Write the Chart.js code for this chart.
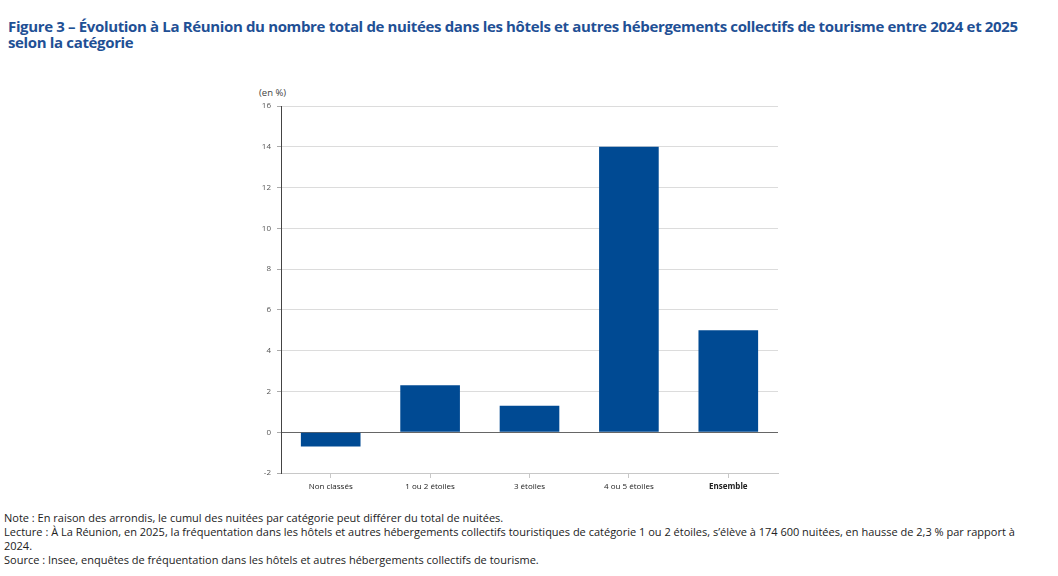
<!DOCTYPE html>
<html lang="fr">
<head>
<meta charset="utf-8">
<script src="https://cdn.jsdelivr.net/npm/chart.js@4"></script>
<style>
  body { margin: 0; width: 1058px; height: 576px; background: #fff; font-family: "Open Sans", sans-serif; position: relative; overflow: hidden; }
  #title { position: absolute; left: 8px; top: 18px; width: 1040px; font-size: 15px; font-weight: bold; color: #1f5095; line-height: 16px; letter-spacing: -0.35px; }
  #unit { position: absolute; left: 259px; top: 86px; font-size: 9.5px; color: #444; }
  #chartBox { position: absolute; left: 240px; top: 80px; width: 560px; height: 423px; }
  #notes { position: absolute; left: 4px; top: 511px; width: 1030px; font-size: 11px; color: #222; line-height: 14px; letter-spacing: 0; }
  #notes p { margin: 0; }
</style>
</head>
<body>
<div id="title">Figure 3 – Évolution à La Réunion du nombre total de nuitées dans les hôtels et autres hébergements collectifs de tourisme entre 2024 et 2025 selon la catégorie</div>
<div id="unit">(en %)</div>
<div id="chartBox"><canvas id="evolChart"></canvas></div>
<div id="notes">
  <p>Note : En raison des arrondis, le cumul des nuitées par catégorie peut différer du total de nuitées.</p>
  <p>Lecture : À La Réunion, en 2025, la fréquentation dans les hôtels et autres hébergements collectifs touristiques de catégorie 1 ou 2 étoiles, s’élève à 174 600 nuitées, en hausse de 2,3 % par rapport à 2024.</p>
  <p>Source : Insee, enquêtes de fréquentation dans les hôtels et autres hébergements collectifs de tourisme.</p>
</div>
<script>
// ============================
// DATA
// ============================
const categories = ['Non classés', '1 ou 2 étoiles', '3 étoiles', '4 ou 5 étoiles', 'Ensemble'];
const evolution = [-0.7, 2.3, 1.3, 14.0, 5.0];
const yMin = -2;
const yMax = 16;
const yStep = 2;

// ============================
// BAR CHART
// ============================
const ctx = document.getElementById('evolChart');

new Chart(ctx, {
    type: 'bar',
    data: {
        labels: categories,
        datasets: [{
            label: 'Évolution',
            data: evolution,
            backgroundColor: '#004a93',
            borderWidth: 0,
            barPercentage: 0.6,
            categoryPercentage: 1.0
        }]
    },
    options: {
        responsive: true,
        maintainAspectRatio: false,
        animation: false,
        layout: { padding: { top: 26, right: 22, left: 0, bottom: 0 } },
        plugins: {
            legend: { display: false },
            tooltip: { enabled: false }
        },
        scales: {
            x: {
                grid: {
                    offset: false,
                    drawOnChartArea: false,
                    drawTicks: true,
                    tickLength: 5,
                    color: '#c8c8c8'
                },
                border: { color: '#c8c8c8' },
                ticks: {
                    color: '#222',
                    padding: 4,
                    maxRotation: 0,
                    font: (c) => ({
                        family: 'Open Sans',
                        size: 8,
                        weight: c.index === categories.length - 1 ? 'bold' : 'normal'
                    })
                },
                afterFit: (scale) => { scale.height = 30; }
            },
            y: {
                min: yMin,
                max: yMax,
                ticks: {
                    stepSize: yStep,
                    color: '#555',
                    padding: 6,
                    font: { family: 'Open Sans', size: 8 }
                },
                grid: {
                    color: (c) => c.tick && c.tick.value === 0 ? '#666' : '#dcdcdc',
                    lineWidth: 1,
                    tickLength: 4,
                    tickColor: '#aaa'
                },
                border: { color: '#444' },
                afterFit: (scale) => { scale.width = 41; }
            }
        }
    }
});
</script>
</body>
</html>
